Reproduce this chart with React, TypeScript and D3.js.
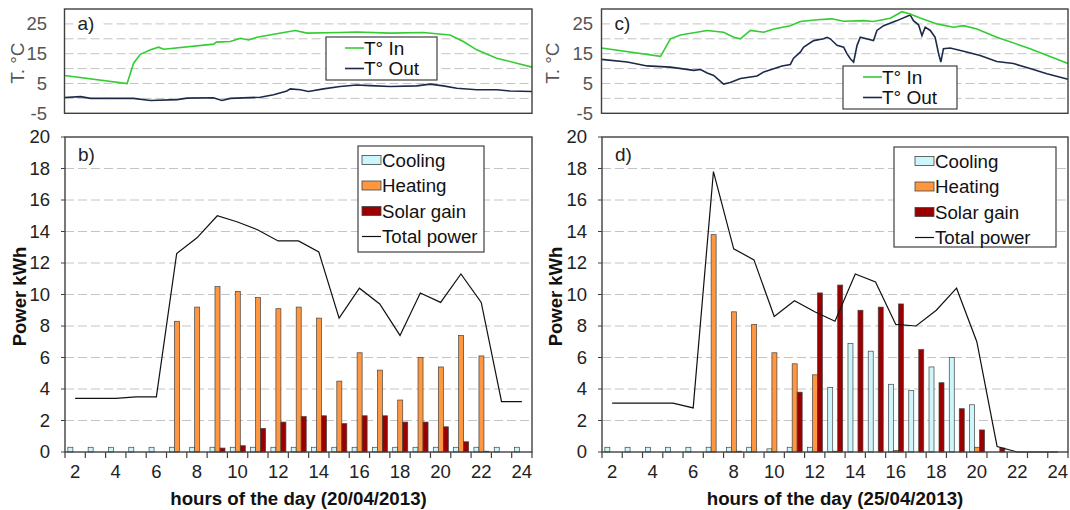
import { useEffect, useRef } from "react";
import * as d3 from "d3";

// categories of the power charts (hour of the day)
const hours = [2, 3, 4, 5, 6, 7, 8, 9, 10, 11, 12, 13, 14, 15, 16, 17, 18, 19, 20, 21, 22, 23, 24];
const hourTicks = [2, 4, 6, 8, 10, 12, 14, 16, 18, 20, 22, 24];
const powerTicks = [0, 2, 4, 6, 8, 10, 12, 14, 16, 18, 20];
const tempTicks = [-5, 5, 15, 25];
const tempGrid = [0, 5, 10, 15, 20, 25];

// 20/04/2013
const coolingB = [0.3, 0.3, 0.3, 0.3, 0.3, 0.3, 0.3, 0.3, 0.3, 0.3, 0.3, 0.3, 0.3, 0.3, 0.3, 0.3, 0.3, 0.3, 0.3, 0.3, 0.3, 0.3, 0.3];
const heatingB = [0, 0, 0, 0, 0, 8.3, 9.2, 10.5, 10.2, 9.8, 9.1, 9.2, 8.5, 4.5, 6.3, 5.2, 3.3, 6.0, 5.4, 7.4, 6.1, 0, 0];
const solarB = [0, 0, 0, 0, 0, 0, 0, 0.25, 0.4, 1.5, 1.9, 2.25, 2.3, 1.8, 2.3, 2.3, 1.9, 1.9, 1.6, 0.65, 0.05, 0, 0];
const totalB = [3.4, 3.4, 3.4, 3.5, 3.5, 12.6, 13.6, 15.0, 14.6, 14.1, 13.4, 13.4, 12.7, 8.5, 10.4, 9.4, 7.4, 10.1, 9.5, 11.3, 9.5, 3.2, 3.2];

// 25/04/2013
const coolingD = [0.3, 0.3, 0.3, 0.3, 0.3, 0.3, 0.3, 0.3, 0.2, 0.3, 0.3, 4.1, 6.9, 6.4, 4.3, 3.9, 5.4, 6.0, 3.0, 0, 0, 0, 0];
const heatingD = [0, 0, 0, 0, 0, 13.8, 8.9, 8.1, 6.3, 5.6, 4.9, 0.05, 0, 0, 0.1, 0, 0, 0, 0.3, 0, 0, 0, 0];
const solarD = [0, 0, 0, 0, 0, 0, 0.05, 0, 0, 3.8, 10.1, 10.6, 9.0, 9.2, 9.4, 6.5, 4.4, 2.75, 1.4, 0.25, 0, 0, 0];
const totalD = [3.1, 3.1, 3.1, 3.1, 2.8, 17.8, 12.9, 12.2, 8.6, 9.6, 8.9, 8.3, 11.3, 10.8, 8.1, 8.0, 9.0, 10.4, 7.0, 0.35, 0, 0, 0];

// temperatures, 20/04/2013
const inHoursA = [1.5, 4.58, 4.9, 5.23, 5.73, 6.13, 6.38, 8.84, 8.97, 9.66, 10.15, 10.56, 10.97, 12.28, 12.85, 13.43, 15.06, 15.88, 17.52, 19.14, 20.47, 21.12, 21.78, 22.76, 23.75, 24.5];
const inTempA = [7.7, 5.0, 11.8, 14.8, 16.3, 17.2, 16.5, 18.2, 18.9, 19.1, 20.2, 19.6, 20.5, 22.1, 22.8, 21.9, 22.1, 22.3, 21.9, 22.1, 21.3, 19.1, 16.3, 13.5, 11.8, 10.5];
const outHoursA = [1.5, 2.29, 2.78, 4.89, 5.73, 7.04, 7.53, 8.82, 9.25, 9.66, 11.13, 11.79, 12.44, 12.61, 13.1, 13.5, 14.24, 15.06, 15.88, 16.54, 17.52, 18.83, 19.49, 20.14, 20.8, 21.78, 22.76, 23.42, 24.5];
const outTempA = [0.3, 0.6, 0, 0, -0.7, -0.4, 0.1, 0.2, -0.7, 0, 0.4, 1.2, 2.5, 3.2, 2.9, 2.3, 3.2, 4.0, 4.5, 4.3, 4.0, 4.2, 4.8, 4.2, 3.4, 2.9, 2.9, 2.5, 2.3];

// temperatures, 25/04/2013
const inHoursC = [1.5, 4.41, 4.9, 5.39, 6.71, 7.52, 8.02, 8.35, 8.84, 9.5, 9.99, 10.81, 11.3, 12.13, 12.86, 13.44, 14.42, 14.91, 15.74, 16.31, 16.72, 17.21, 18.04, 18.85, 19.35, 20.01, 20.99, 22.63, 24.5];
const inTempC = [16.9, 14.1, 20.0, 21.3, 22.8, 22.2, 20.5, 20.0, 22.8, 22.2, 23.3, 24.4, 25.8, 26.4, 26.7, 25.9, 26.1, 25.8, 26.9, 29.1, 28.3, 27.0, 25.0, 23.9, 24.4, 23.3, 20.5, 16.7, 11.7];
const outHoursC = [1.5, 2.77, 3.75, 4.9, 6.05, 6.38, 6.71, 7.03, 7.52, 7.85, 8.35, 9.17, 9.5, 10.4, 10.81, 10.97, 11.3, 11.47, 11.96, 12.45, 12.62, 12.78, 13.11, 13.44, 13.6, 13.77, 13.93, 14.1, 14.26, 14.91, 15.08, 15.41, 16.07, 16.72, 16.88, 17.13, 17.3, 17.46, 17.71, 17.95, 18.12, 18.23, 18.36, 18.69, 19.35, 20.17, 20.99, 21.81, 22.63, 23.46, 24.5];
const outTempC = [13.1, 12.2, 10.9, 10.5, 9.4, 9.7, 8.5, 7.7, 4.8, 5.3, 6.7, 7.5, 8.9, 10.9, 11.4, 13.5, 15.5, 17.2, 19.4, 20.0, 20.5, 20.0, 17.8, 17.2, 15.0, 13.3, 12.2, 17.8, 20.5, 19.4, 22.8, 24.4, 26.1, 28.0, 26.1, 24.7, 21.1, 23.9, 22.8, 20.5, 15.0, 12.2, 16.7, 16.9, 15.8, 14.4, 12.4, 11.7, 10.0, 8.3, 6.4];

const FONT = "'Liberation Sans', Arial, Helvetica, sans-serif";
const GREEN = "#33cc33";
const NAVY = "#1c2a4a";
const GRID = "#c4c4c4";
const BORDER = "#404040";
const seriesColors = { cooling: "#ccf6fb", heating: "#ff9640", solar: "#9a0000" };

function drawTemp(svg, p) {
  const x = d3.scaleLinear().domain([1.5, 24.5]).range([p.x0, p.x1]);
  const y = d3.scaleLinear().domain([-5, 30]).range([p.yb, p.yt]);
  const g = svg.append("g");

  g.selectAll(".grid")
    .data(tempGrid)
    .join("line")
    .attr("x1", p.x0)
    .attr("x2", p.x1)
    .attr("y1", (d) => y(d))
    .attr("y2", (d) => y(d))
    .attr("stroke", GRID)
    .attr("stroke-dasharray", "9,4");

  // panel letter sits on a white patch over the grid
  g.append("rect")
    .attr("x", p.x0 + 9)
    .attr("y", y(25) - 10)
    .attr("width", 28)
    .attr("height", 20)
    .attr("fill", "white");
  g.append("text")
    .attr("x", p.x0 + 13)
    .attr("y", y(25) + 6)
    .attr("font-size", 19)
    .attr("fill", "#222")
    .text(p.label);

  const line = d3.line().x((d) => x(d[0])).y((d) => y(d[1]));
  g.append("path")
    .attr("d", line(p.outHours.map((h, i) => [h, p.outTemp[i]])))
    .attr("fill", "none")
    .attr("stroke", NAVY)
    .attr("stroke-width", 1.6);
  g.append("path")
    .attr("d", line(p.inHours.map((h, i) => [h, p.inTemp[i]])))
    .attr("fill", "none")
    .attr("stroke", GREEN)
    .attr("stroke-width", 1.6);

  g.append("rect")
    .attr("x", p.x0)
    .attr("y", p.yt)
    .attr("width", p.x1 - p.x0)
    .attr("height", p.yb - p.yt)
    .attr("fill", "none")
    .attr("stroke", BORDER)
    .attr("stroke-width", 1.4);

  g.selectAll(".tick")
    .data(tempTicks)
    .join("text")
    .attr("x", p.labelX)
    .attr("y", (d) => y(d))
    .attr("dy", "0.35em")
    .attr("text-anchor", "end")
    .attr("font-size", 18.5)
    .attr("fill", "#555")
    .text((d) => d);

  g.append("text")
    .attr("transform", `translate(${p.titleX},${(p.yt + p.yb) / 2 + 2}) rotate(-90)`)
    .attr("text-anchor", "middle")
    .attr("font-size", 19)
    .attr("fill", "#555")
    .text("T.  °C");

  // legend
  const L = p.legend;
  g.append("rect")
    .attr("x", L.x)
    .attr("y", L.y)
    .attr("width", L.w)
    .attr("height", L.h)
    .attr("fill", "white")
    .attr("stroke", BORDER)
    .attr("stroke-width", 1.2);
  const items = [
    { name: "T° In", color: GREEN },
    { name: "T° Out", color: NAVY },
  ];
  items.forEach((it, i) => {
    const cy = L.y + 11 + i * 20.5;
    g.append("line")
      .attr("x1", L.x + L.pad)
      .attr("x2", L.x + L.pad + 19)
      .attr("y1", cy)
      .attr("y2", cy)
      .attr("stroke", it.color)
      .attr("stroke-width", 1.6);
    g.append("text")
      .attr("x", L.x + L.pad + 19)
      .attr("y", cy)
      .attr("dy", "0.36em")
      .attr("font-size", 19)
      .attr("fill", "#111")
      .text(it.name);
  });
}

function drawPower(svg, p) {
  const x = d3.scaleBand().domain(hours).range([p.x0, p.x1]);
  const sub = d3
    .scaleBand()
    .domain(["cooling", "heating", "solar"])
    .range([x.bandwidth() * 0.14, x.bandwidth() * 0.88]);
  const y = d3.scaleLinear().domain([0, 20]).range([p.yb, p.yt]);
  const g = svg.append("g");

  g.selectAll(".grid")
    .data(powerTicks.filter((d) => d > 0 && d < 20))
    .join("line")
    .attr("x1", p.x0)
    .attr("x2", p.x1)
    .attr("y1", (d) => y(d))
    .attr("y2", (d) => y(d))
    .attr("stroke", GRID)
    .attr("stroke-dasharray", "9,4");

  g.append("text")
    .attr("x", p.x0 + 13)
    .attr("y", p.yt + 24)
    .attr("font-size", 19)
    .attr("fill", "#222")
    .text(p.label);

  const series = [
    { key: "cooling", values: p.cooling },
    { key: "heating", values: p.heating },
    { key: "solar", values: p.solar },
  ];
  series.forEach((s) => {
    g.append("g")
      .selectAll("rect")
      .data(hours.map((h, i) => ({ h, v: s.values[i] })).filter((d) => d.v > 0))
      .join("rect")
      .attr("x", (d) => x(d.h) + sub(s.key))
      .attr("width", sub.bandwidth())
      .attr("y", (d) => y(d.v))
      .attr("height", (d) => y(0) - y(d.v))
      .attr("fill", seriesColors[s.key])
      .attr("stroke", "#444")
      .attr("stroke-width", 0.7);
  });

  const line = d3
    .line()
    .x((d) => x(d[0]) + x.bandwidth() / 2)
    .y((d) => y(d[1]));
  g.append("path")
    .attr("d", line(hours.map((h, i) => [h, p.total[i]])))
    .attr("fill", "none")
    .attr("stroke", "#111")
    .attr("stroke-width", 1.2);

  g.append("rect")
    .attr("x", p.x0)
    .attr("y", p.yt)
    .attr("width", p.x1 - p.x0)
    .attr("height", p.yb - p.yt)
    .attr("fill", "none")
    .attr("stroke", BORDER)
    .attr("stroke-width", 1.4);

  // y ticks
  g.selectAll(".ytick")
    .data(powerTicks)
    .join("line")
    .attr("x1", p.x0 - 4)
    .attr("x2", p.x0)
    .attr("y1", (d) => y(d))
    .attr("y2", (d) => y(d))
    .attr("stroke", BORDER);
  g.selectAll(".ylab")
    .data(powerTicks)
    .join("text")
    .attr("x", p.x0 - 15)
    .attr("y", (d) => y(d))
    .attr("dy", "0.35em")
    .attr("text-anchor", "end")
    .attr("font-size", 18.5)
    .attr("fill", "#222")
    .text((d) => d);

  // x ticks at category edges
  const edges = hours.map((h) => x(h)).concat([p.x1]);
  g.selectAll(".xtick")
    .data(edges)
    .join("line")
    .attr("x1", (d) => d)
    .attr("x2", (d) => d)
    .attr("y1", p.yb)
    .attr("y2", p.yb + 6)
    .attr("stroke", BORDER)
    .attr("stroke-width", 1.2);
  g.selectAll(".xlab")
    .data(hourTicks)
    .join("text")
    .attr("x", (d) => x(d) + x.bandwidth() / 2)
    .attr("y", p.yb + 26)
    .attr("text-anchor", "middle")
    .attr("font-size", 18.5)
    .attr("fill", "#222")
    .text((d) => d);

  g.append("text")
    .attr("x", (p.x0 + p.x1) / 2)
    .attr("y", p.yb + 53)
    .attr("text-anchor", "middle")
    .attr("font-size", 18.7)
    .attr("font-weight", "bold")
    .attr("fill", "#111")
    .text(p.xTitle);

  g.append("text")
    .attr("transform", `translate(${p.titleX},${(p.yt + p.yb) / 2 + 2}) rotate(-90)`)
    .attr("text-anchor", "middle")
    .attr("font-size", 18.5)
    .attr("font-weight", "bold")
    .attr("fill", "#111")
    .text("Power kWh");

  // legend
  const L = p.legend;
  g.append("rect")
    .attr("x", L.x)
    .attr("y", L.y)
    .attr("width", L.w)
    .attr("height", L.h)
    .attr("fill", "white")
    .attr("stroke", BORDER)
    .attr("stroke-width", 1.2);
  const items = [
    { name: "Cooling", key: "cooling" },
    { name: "Heating", key: "heating" },
    { name: "Solar gain", key: "solar" },
    { name: "Total power", key: "total" },
  ];
  items.forEach((it, i) => {
    const cy = L.y + 14 + i * 25.5;
    if (it.key === "total") {
      g.append("line")
        .attr("x1", L.x + L.pad)
        .attr("x2", L.x + L.pad + 19)
        .attr("y1", cy)
        .attr("y2", cy)
        .attr("stroke", "#111")
        .attr("stroke-width", 1.2);
    } else {
      g.append("rect")
        .attr("x", L.x + L.pad)
        .attr("y", cy - 4.5)
        .attr("width", 19)
        .attr("height", 9)
        .attr("fill", seriesColors[it.key])
        .attr("stroke", "#444")
        .attr("stroke-width", 0.8);
    }
    g.append("text")
      .attr("x", L.x + L.pad + 20)
      .attr("y", cy)
      .attr("dy", "0.36em")
      .attr("font-size", 18.7)
      .attr("fill", "#111")
      .text(it.name);
  });
}

export default function App() {
  const svgRef = useRef(null);

  useEffect(() => {
    const svg = d3.select(svgRef.current);
    svg.selectAll("*").remove();
    svg.append("rect").attr("width", 1070).attr("height", 510).attr("fill", "white");

    drawTemp(svg, {
      x0: 64.5, x1: 532, yt: 9, yb: 113.3, label: "a)",
      inHours: inHoursA, inTemp: inTempA, outHours: outHoursA, outTemp: outTempA,
      labelX: 47, titleX: 24,
      legend: { x: 326, y: 37, w: 111, h: 43, pad: 19 },
    });
    drawTemp(svg, {
      x0: 601.5, x1: 1068, yt: 9, yb: 113.3, label: "c)",
      inHours: inHoursC, inTemp: inTempC, outHours: outHoursC, outTemp: outTempC,
      labelX: 593, titleX: 559,
      legend: { x: 843, y: 66, w: 114, h: 43, pad: 20 },
    });
    drawPower(svg, {
      x0: 65, x1: 532, yt: 137, yb: 452, label: "b)",
      cooling: coolingB, heating: heatingB, solar: solarB, total: totalB,
      titleX: 26, xTitle: "hours of the day (20/04/2013)",
      legend: { x: 358, y: 146, w: 126, h: 106, pad: 4 },
    });
    drawPower(svg, {
      x0: 602, x1: 1068, yt: 137, yb: 452, label: "d)",
      cooling: coolingD, heating: heatingD, solar: solarD, total: totalD,
      titleX: 562, xTitle: "hours of the day (25/04/2013)",
      legend: { x: 894, y: 147, w: 162, h: 100, pad: 21 },
    });
  }, []);

  return (
    <div style={{ position: "absolute", left: 0, top: 0 }}>
      <svg ref={svgRef} width={1070} height={510} style={{ display: "block", fontFamily: FONT }} />
    </div>
  );
}
